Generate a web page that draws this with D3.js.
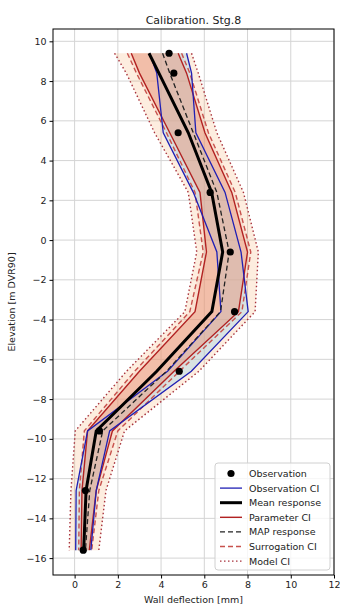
<!DOCTYPE html>
<html>
<head>
<meta charset="utf-8">
<script src="https://cdn.jsdelivr.net/npm/d3@7"></script>
<style>
  body { margin: 0; background: #fff; }
  text { font-family: "DejaVu Sans", sans-serif; }
</style>
</head>
<body>
<div id="content"></div>
<script>
// elevation levels [m DVR90]
const elev = [9.4, 8.4, 5.4, 2.4, -0.6, -3.6, -6.6, -9.6, -12.6, -15.6];
// wall deflection [mm]
const observation = [4.37, 4.59, 4.79, 6.27, 7.2, 7.4, 4.84, 1.15, 0.5, 0.4];
const obsLow = [3.47, 3.8, 4.1, 5.49, 6.58, 6.77, 4.3, 0.6, 0.07, 0.05];
const obsHigh = [5.18, 5.41, 5.61, 6.96, 7.7, 8.03, 5.4, 1.62, 1.0, 0.75];
const meanResponse = [3.44, 3.9, 5.26, 6.34, 6.85, 6.35, 3.8, 1.0, 0.53, 0.42];
const mapResponse = [4.07, 4.4, 5.49, 6.58, 7.15, 6.75, 4.25, 1.3, 0.7, 0.5];
const paramLow = [2.62, 3.0, 4.4, 5.8, 6.1, 5.57, 3.0, 0.6, 0.34, 0.3];
const paramHigh = [4.79, 5.18, 6.03, 7.27, 8.0, 7.58, 4.6, 1.75, 1.0, 0.68];
const surrLow = [2.44, 2.86, 4.25, 5.57, 5.95, 5.33, 2.78, 0.45, 0.22, 0.19];
const surrHigh = [4.95, 5.33, 6.19, 7.43, 8.15, 7.74, 4.85, 2.0, 1.12, 0.79];
const modelLow = [1.85, 2.39, 3.7, 5.26, 5.65, 5.1, 2.4, 0.03, -0.17, -0.25];
const modelHigh = [5.41, 5.72, 6.58, 7.81, 8.5, 8.35, 5.75, 2.31, 1.45, 1.12];

const xTicks = [0, 2, 4, 6, 8, 10, 12];
const yTicks = [-16, -14, -12, -10, -8, -6, -4, -2, 0, 2, 4, 6, 8, 10];
const legendLabels = ["Observation", "Observation CI", "Mean response", "Parameter CI",
    "MAP response", "Surrogation CI", "Model CI"];

var width = 340, height = 605;
var padding = { top: 29, right: 6, bottom: 30, left: 53 };

var svg = d3.select("#content").append("svg")
    .attr("width", width)
    .attr("height", height);

var xScale = d3.scaleLinear()
    .domain([-1, 12])
    .range([padding.left, width - padding.right]);
var yScale = d3.scaleLinear()
    .domain([-16.85, 10.62])
    .range([height - padding.bottom, padding.top]);

var fmt = function (d) { return d < 0 ? "\u2212" + Math.abs(d) : "" + d; };

// grid
var grid = svg.append("g");
grid.selectAll(".gx").data(xTicks).enter().append("line")
    .attr("x1", d => xScale(d)).attr("x2", d => xScale(d))
    .attr("y1", padding.top).attr("y2", height - padding.bottom)
    .attr("stroke", "#d4d4d4").attr("stroke-width", 1);
grid.selectAll(".gy").data(yTicks).enter().append("line")
    .attr("y1", d => yScale(d)).attr("y2", d => yScale(d))
    .attr("x1", padding.left).attr("x2", width - padding.right)
    .attr("stroke", "#d4d4d4").attr("stroke-width", 1);

function band(lo, hi) {
    return d3.area()
        .x0((d, i) => xScale(lo[i]))
        .x1((d, i) => xScale(hi[i]))
        .y(d => yScale(d))(elev);
}
function curve(vals) {
    return d3.line()
        .x((d, i) => xScale(vals[i]))
        .y(d => yScale(d))(elev);
}

var plot = svg.append("g");
// fills
plot.append("path").attr("d", band(modelLow, modelHigh)).attr("fill", "#f4a460").attr("fill-opacity", 0.2);
plot.append("path").attr("d", band(surrLow, surrHigh)).attr("fill", "#e9967a").attr("fill-opacity", 0.15);
plot.append("path").attr("d", band(obsLow, obsHigh)).attr("fill", "#add8e6").attr("fill-opacity", 0.45);
plot.append("path").attr("d", band(paramLow, paramHigh)).attr("fill", "#e9967a").attr("fill-opacity", 0.45);

var styles = {
    obs: { color: "#1f1fb4", w: 1.3, dash: null },
    mean: { color: "#000", w: 3, dash: null },
    param: { color: "#b22222", w: 1.4, dash: null },
    map: { color: "#222", w: 1.3, dash: "5,3" },
    surr: { color: "#c8524d", w: 1.4, dash: "5,3" },
    model: { color: "#a8323c", w: 1.4, dash: "1.5,2.5" }
};

function drawLine(vals, s) {
    plot.append("path").attr("d", curve(vals))
        .attr("fill", "none")
        .attr("stroke", s.color)
        .attr("stroke-width", s.w)
        .attr("stroke-dasharray", s.dash);
}

drawLine(modelLow, styles.model);
drawLine(modelHigh, styles.model);
drawLine(surrLow, styles.surr);
drawLine(surrHigh, styles.surr);
drawLine(paramLow, styles.param);
drawLine(paramHigh, styles.param);
drawLine(obsLow, styles.obs);
drawLine(obsHigh, styles.obs);
drawLine(meanResponse, styles.mean);
drawLine(mapResponse, styles.map);

plot.selectAll(".dot").data(elev).enter().append("circle")
    .attr("cx", (d, i) => xScale(observation[i]))
    .attr("cy", d => yScale(d))
    .attr("r", 3.6)
    .attr("fill", "#000");

// axes
var xAxis = d3.axisBottom(xScale).tickValues(xTicks).tickFormat(fmt).tickSize(3.5).tickPadding(3);
var yAxis = d3.axisLeft(yScale).tickValues(yTicks).tickFormat(fmt).tickSize(3.5).tickPadding(3);

var gx = svg.append("g").attr("transform", "translate(0," + (height - padding.bottom) + ")").call(xAxis);
var gy = svg.append("g").attr("transform", "translate(" + padding.left + ",0)").call(yAxis);
[gx, gy].forEach(function (g) {
    g.select(".domain").remove();
    g.selectAll("text").attr("font-size", "9.5px").attr("fill", "#222")
        .style("font-family", "DejaVu Sans, sans-serif");
});

svg.append("rect")
    .attr("x", padding.left).attr("y", padding.top)
    .attr("width", width - padding.left - padding.right)
    .attr("height", height - padding.top - padding.bottom)
    .attr("fill", "none").attr("stroke", "#000").attr("stroke-width", 1);

// titles
svg.append("text")
    .attr("x", (padding.left + width - padding.right) / 2).attr("y", 24)
    .attr("text-anchor", "middle").attr("font-size", "11px").attr("fill", "#222")
    .text("Calibration. Stg.8");
svg.append("text")
    .attr("x", (padding.left + width - padding.right) / 2).attr("y", 603)
    .attr("text-anchor", "middle").attr("font-size", "9.5px").attr("fill", "#222")
    .text("Wall deflection [mm]");
svg.append("text")
    .attr("transform", "rotate(-90)")
    .attr("x", -(padding.top + height - padding.bottom) / 2).attr("y", 15)
    .attr("text-anchor", "middle").attr("font-size", "9.5px").attr("fill", "#222")
    .text("Elevation [m DVR90]");

// legend
var lg = svg.append("g").attr("transform", "translate(215,463)");
lg.append("rect").attr("width", 115).attr("height", 107).attr("rx", 3)
    .attr("fill", "#fff").attr("fill-opacity", 0.8)
    .attr("stroke", "#d0d0d0").attr("stroke-width", 1);
var legendStyles = [null, styles.obs, styles.mean, styles.param, styles.map, styles.surr, styles.model];
legendLabels.forEach(function (lab, i) {
    var yy = 10.5 + i * 14.6;
    var s = legendStyles[i];
    if (s == null) {
        lg.append("circle").attr("cx", 16).attr("cy", yy).attr("r", 3.6).attr("fill", "#000");
    } else {
        lg.append("line").attr("x1", 5).attr("x2", 27).attr("y1", yy).attr("y2", yy)
            .attr("stroke", s.color).attr("stroke-width", s.w)
            .attr("stroke-dasharray", s.dash);
    }
    lg.append("text").attr("x", 34).attr("y", yy + 3.5)
        .attr("font-size", "9.5px").attr("fill", "#222").text(lab);
});
</script>
</body>
</html>
